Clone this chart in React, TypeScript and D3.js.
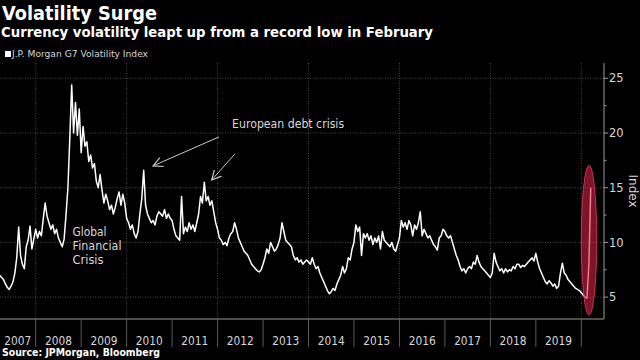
import React from "react";
import * as d3 from "d3";

// Semi-monthly readings of the J.P. Morgan G7 Volatility Index (index i => year + i/24)
const vol2007 = [7.0, 6.8, 6.6, 6.2, 5.9, 5.7, 6.0, 6.4, 7.2, 8.6, 11.4, 8.8, 8.0, 7.6, 9.6, 10.2, 11.5, 9.4, 10.3]; // starts at index 5
const vol2008 = [11.2, 10.4, 11.0, 10.6, 12.2, 13.6, 12.4, 11.8, 11.2, 11.6, 10.8, 11.2, 10.4, 10.0, 9.6, 10.3, 12.5, 15.0, 19.5, 24.4, 20.0, 22.8, 19.8, 22.2];
const vol2009 = [18.2, 20.6, 18.8, 19.2, 17.4, 18.0, 16.8, 17.2, 15.6, 15.0, 16.2, 14.8, 13.6, 14.4, 13.8, 13.0, 13.4, 12.6, 13.2, 14.0, 14.6, 13.4, 14.4, 13.6];
const vol2010 = [12.2, 11.8, 11.2, 11.6, 10.8, 10.4, 11.0, 12.6, 14.0, 16.6, 13.4, 12.6, 12.2, 11.8, 12.0, 11.6, 12.4, 12.8, 12.6, 12.4, 13.0, 12.2, 12.6, 12.2];
const vol2011 = [12.0, 11.2, 10.6, 10.4, 10.2, 14.2, 10.8, 11.4, 11.0, 11.8, 11.2, 11.6, 11.0, 11.8, 12.6, 14.2, 13.6, 15.5, 13.8, 14.2, 13.4, 13.8, 12.8, 11.8];
const vol2012 = [11.2, 10.4, 10.2, 9.8, 10.0, 9.7, 10.4, 10.8, 11.0, 11.8, 11.2, 10.4, 10.0, 9.6, 9.2, 9.0, 8.8, 8.4, 8.0, 7.8, 7.6, 7.4, 7.3, 7.5];
const vol2013 = [8.0, 8.6, 9.4, 9.0, 10.0, 9.6, 9.2, 9.4, 9.8, 10.4, 11.8, 11.0, 10.2, 10.0, 9.8, 9.6, 8.8, 8.4, 8.6, 8.2, 8.4, 8.0, 8.2, 8.4];
const vol2014 = [8.2, 8.0, 8.6, 8.0, 7.6, 7.8, 7.2, 6.8, 6.4, 6.0, 5.6, 5.3, 5.5, 5.8, 5.6, 6.2, 6.6, 7.0, 7.8, 7.2, 7.6, 8.6, 8.4, 9.4];
const vol2015 = [10.0, 11.6, 11.0, 11.4, 8.8, 10.8, 10.4, 10.8, 10.2, 10.6, 9.8, 10.4, 10.0, 10.6, 9.4, 11.0, 10.2, 10.0, 9.8, 9.6, 10.0, 9.4, 9.2, 9.8];
const vol2016 = [10.4, 12.0, 11.4, 11.8, 11.2, 12.0, 11.6, 10.6, 11.6, 11.2, 11.8, 12.8, 10.6, 11.2, 10.8, 10.4, 10.6, 10.2, 9.8, 9.6, 9.3, 10.4, 10.6, 11.2];
const vol2017 = [11.0, 10.6, 10.4, 10.6, 10.0, 9.4, 8.8, 8.4, 7.8, 7.4, 7.6, 7.2, 7.6, 7.8, 7.6, 8.2, 8.0, 8.8, 8.2, 7.8, 7.6, 7.4, 7.2, 7.0];
const vol2018 = [6.8, 7.2, 9.0, 8.2, 7.8, 7.4, 7.6, 7.2, 7.6, 7.3, 7.5, 7.4, 7.8, 7.6, 8.0, 8.0, 7.7, 7.9, 7.8, 8.0, 8.2, 8.4, 8.6, 8.3];
const vol2019 = [9.0, 8.2, 7.6, 7.2, 6.8, 6.4, 6.2, 6.5, 6.3, 6.0, 6.2, 5.8, 6.0, 7.2, 8.1, 7.2, 7.0, 6.6, 6.4, 6.2, 6.0, 5.8, 5.7, 5.6];
const vol2020 = [5.4, 5.2, 5.0, 4.9, 8.0, 15.0];

const seriesByYear: [number, number, number[]][] = [
  [2007, 5, vol2007], [2008, 0, vol2008], [2009, 0, vol2009], [2010, 0, vol2010],
  [2011, 0, vol2011], [2012, 0, vol2012], [2013, 0, vol2013], [2014, 0, vol2014],
  [2015, 0, vol2015], [2016, 0, vol2016], [2017, 0, vol2017], [2018, 0, vol2018],
  [2019, 0, vol2019], [2020, 0, vol2020],
];

const yearLabels = [2007, 2008, 2009, 2010, 2011, 2012, 2013, 2014, 2015, 2016, 2017, 2018, 2019];
const yTicks = [5, 10, 15, 20, 25];
const yMinorTicks = [7.5, 12.5, 17.5, 22.5];
const gridYears = [2008, 2010, 2012, 2014, 2016, 2018, 2020];

const TITLE = "Volatility Surge";
const SUBTITLE = "Currency volatility leapt up from a record low in February";
const LEGEND = "J.P. Morgan G7 Volatility Index";
const SOURCE = "Source: JPMorgan, Bloomberg";

export default function App() {
  const W = 640, H = 360;
  const left = 0, right = 604, top = 63, bottom = 319;
  const x = d3.scaleLinear().domain([2008, 2020]).range([35.7, 581.3]);
  const y = d3.scaleLinear().domain([3, 26.4]).range([bottom, top]);

  const points = seriesByYear.flatMap(([yr, off, vals]) =>
    vals.map((v, i) => ({ t: yr + (off + i) / 24, v }))
  );
  const line = d3.line<{ t: number; v: number }>().x(d => x(d.t)).y(d => y(d.v));

  const font = "'DejaVu Sans', 'Open Sans', sans-serif";
  const txt = "#d8d8d8";
  const grid = "#4a4a4a";

  return (
    <svg width={W} height={H} style={{ position: "absolute", left: 0, top: 0, background: "#000" }} fontFamily={font}>
      <rect width={W} height={H} fill="#000" />
      <defs>
        <marker id="arr" markerUnits="userSpaceOnUse" markerWidth="12" markerHeight="12" refX="8" refY="5" orient="auto" viewBox="0 0 10 10">
          <path d="M0,1 L8,5 L0,9" fill="none" stroke="#c8c8c8" strokeWidth="1" />
        </marker>
      </defs>

      {/* Titles */}
      <text x={2} y={19.5} fill="#fff" fontWeight="bold" fontSize={19} textLength={155} lengthAdjust="spacingAndGlyphs">{TITLE}</text>
      <text x={1} y={37} fill="#fff" fontWeight="bold" fontSize={14} textLength={432} lengthAdjust="spacingAndGlyphs">{SUBTITLE}</text>
      <rect x={5} y={51} width={6} height={6} fill="#fff" />
      <text x={12} y={57} fill={txt} fontSize={9.5} textLength={136} lengthAdjust="spacingAndGlyphs">{LEGEND}</text>

      {/* Grid */}
      {yTicks.map(v => (
        <line key={"hg" + v} x1={left} x2={right} y1={y(v)} y2={y(v)} stroke={grid} strokeWidth={1} strokeDasharray="1,1.5" />
      ))}
      {gridYears.map(yr => (
        <line key={"vg" + yr} x1={x(yr)} x2={x(yr)} y1={top} y2={bottom} stroke={grid} strokeWidth={1} strokeDasharray="1,1.5" />
      ))}

      {/* Series */}
      <path d={line(points) || ""} fill="none" stroke="#fff" strokeWidth={1.5} strokeLinejoin="round" />

      {/* Highlight ellipse */}
      <ellipse cx={x(2020.17)} cy={y(10.2)} rx={x(2020.17) - x(2020.0)} ry={y(3.35) - y(10.2)}
        fill="rgba(212,34,66,0.59)" stroke="rgba(230,60,90,0.8)" strokeWidth={1} />

      {/* Axes */}
      <line x1={left} x2={right} y1={bottom} y2={bottom} stroke="#9a9a9a" strokeWidth={1} />
      <line x1={right} x2={right} y1={top} y2={bottom} stroke="#9a9a9a" strokeWidth={1} />
      {yTicks.map(v => (
        <g key={"yt" + v}>
          <line x1={right} x2={right + 4} y1={y(v)} y2={y(v)} stroke="#9a9a9a" />
          <text x={right + 5} y={y(v)} dy="0.36em" fill={txt} fontSize={11.5}>{v}</text>
        </g>
      ))}
      {yMinorTicks.map(v => (
        <line key={"ym" + v} x1={right} x2={right + 2.5} y1={y(v)} y2={y(v)} stroke="#9a9a9a" />
      ))}
      <text transform={`translate(${629},${y(14.7)}) rotate(90)`} textAnchor="middle" fill={txt} fontSize={12}>Index</text>

      {/* X axis year separators and labels */}
      {yearLabels.concat([2020]).filter(yr => yr >= 2008).map(yr => (
        <line key={"xs" + yr} x1={x(yr)} x2={x(yr)} y1={bottom} y2={347} stroke="#5a5a5a" strokeWidth={1} />
      ))}
      {yearLabels.map(yr => {
        const a = Math.max(left, x(yr));
        const b = x(yr + 1);
        return (
          <text key={"xl" + yr} x={(a + b) / 2} y={345} textAnchor="middle" fill={txt} fontSize={11.5} textLength={27} lengthAdjust="spacingAndGlyphs">{yr}</text>
        );
      })}

      {/* Annotations */}
      <text x={x(2012.32)} y={y(20.5)} fill={txt} fontSize={12} textLength={112} lengthAdjust="spacingAndGlyphs">European debt crisis</text>
      <line x1={x(2012.03)} y1={y(19.64)} x2={x(2010.58)} y2={y(16.99)} stroke="#c8c8c8" strokeWidth={1} markerEnd="url(#arr)" />
      <line x1={x(2012.38)} y1={y(18.08)} x2={x(2011.87)} y2={y(15.7)} stroke="#c8c8c8" strokeWidth={1} markerEnd="url(#arr)" />
      <text x={x(2008.81)} y={y(10.59)} fill={txt} fontSize={12}>
        <tspan x={x(2008.81)} textLength={34} lengthAdjust="spacingAndGlyphs">Global</tspan>
        <tspan x={x(2008.81)} dy={14} textLength={49} lengthAdjust="spacingAndGlyphs">Financial</tspan>
        <tspan x={x(2008.81)} dy={14} textLength={31} lengthAdjust="spacingAndGlyphs">Crisis</tspan>
      </text>

      <text x={2} y={356} fill="#fff" fontWeight="bold" fontSize={10} textLength={158} lengthAdjust="spacingAndGlyphs">{SOURCE}</text>
    </svg>
  );
}
